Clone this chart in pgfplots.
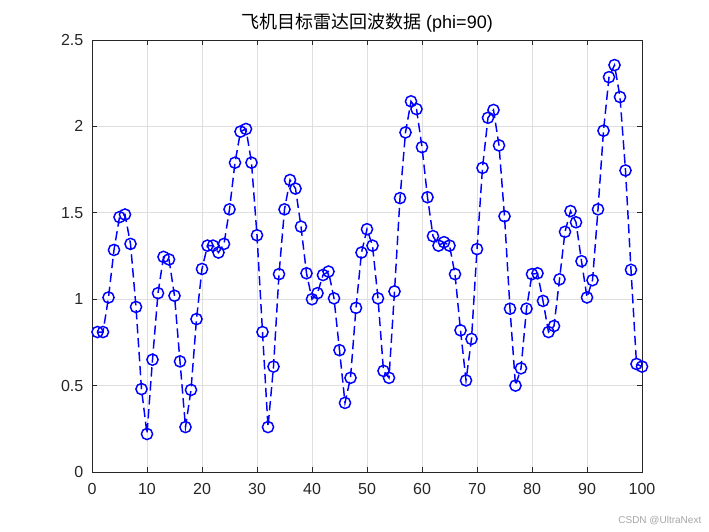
\documentclass[border=0pt]{standalone}
\usepackage{pgfplots}
\pgfplotsset{compat=1.18}
\usepackage{fontspec}
\setmainfont{Liberation Sans}
\newfontfamily\cjk{Noto Sans CJK SC}
\definecolor{axcol}{RGB}{38,38,38}
\definecolor{gridcol}{RGB}{223,223,223}
\begin{document}
\begin{tikzpicture}
\begin{axis}[
  scale only axis,
  width=412.5pt, height=324pt,
  xmin=0, xmax=100, ymin=0, ymax=2.5,
  xtick={0,10,...,100},
  ytick={0,0.5,1,1.5,2,2.5},
  yticklabels={0,0.5,1,1.5,2,2.5},
  grid=major,
  major grid style={gridcol, line width=0.5pt},
  axis line style={axcol, line width=0.6pt},
  tick style={axcol, line width=0.6pt},
  tick align=inside,
  major tick length=4pt,
  ticklabel style={font=\fontsize{12}{14}\selectfont, text=axcol},
  xticklabel style={yshift=-5pt},
  yticklabel style={xshift=-3pt},
  /pgf/number format/assume math mode=true,
  title={\cjk 飞机目标雷达回波数据\normalfont\ (phi=90)},
  title style={font=\fontsize{13.5}{16}\selectfont, text=black, yshift=-4pt},
  clip=false,
]
\addplot[blue, line width=1.1pt, dash pattern=on 7pt off 3.5pt,
  mark=o, mark size=4.2pt, mark options={solid, line width=1.1pt}]
coordinates {
(1,0.81)(2,0.81)(3,1.01)(4,1.285)(5,1.475)(6,1.49)(7,1.32)(8,0.955)(9,0.48)(10,0.22)
(11,0.65)(12,1.035)(13,1.245)(14,1.23)(15,1.02)(16,0.64)(17,0.26)(18,0.475)(19,0.885)(20,1.175)
(21,1.31)(22,1.31)(23,1.27)(24,1.32)(25,1.52)(26,1.79)(27,1.97)(28,1.985)(29,1.79)(30,1.37)
(31,0.81)(32,0.26)(33,0.61)(34,1.145)(35,1.52)(36,1.69)(37,1.64)(38,1.42)(39,1.15)(40,1.0)
(41,1.035)(42,1.14)(43,1.16)(44,1.005)(45,0.705)(46,0.40)(47,0.545)(48,0.95)(49,1.27)(50,1.405)
(51,1.31)(52,1.005)(53,0.585)(54,0.545)(55,1.045)(56,1.585)(57,1.965)(58,2.145)(59,2.10)(60,1.88)
(61,1.59)(62,1.365)(63,1.31)(64,1.33)(65,1.31)(66,1.145)(67,0.82)(68,0.53)(69,0.77)(70,1.29)
(71,1.76)(72,2.05)(73,2.095)(74,1.89)(75,1.48)(76,0.945)(77,0.50)(78,0.60)(79,0.945)(80,1.145)
(81,1.15)(82,0.99)(83,0.81)(84,0.845)(85,1.115)(86,1.39)(87,1.51)(88,1.445)(89,1.22)(90,1.01)
(91,1.11)(92,1.52)(93,1.975)(94,2.285)(95,2.355)(96,2.17)(97,1.745)(98,1.17)(99,0.625)(100,0.61)
};
\coordinate (ll) at (rel axis cs:0,0);
\coordinate (ur) at (rel axis cs:1,1);
\end{axis}
\node[anchor=south east, font=\fontsize{7.5}{9}\selectfont, text=gray!70] at ([shift={(48pt,-43pt)}]ur |- ll) {CSDN @UltraNext};
\useasboundingbox ([shift={(-69pt,-44.25pt)}]ll) rectangle ([shift={(50.25pt,30pt)}]ur);
\end{tikzpicture}
\end{document}
